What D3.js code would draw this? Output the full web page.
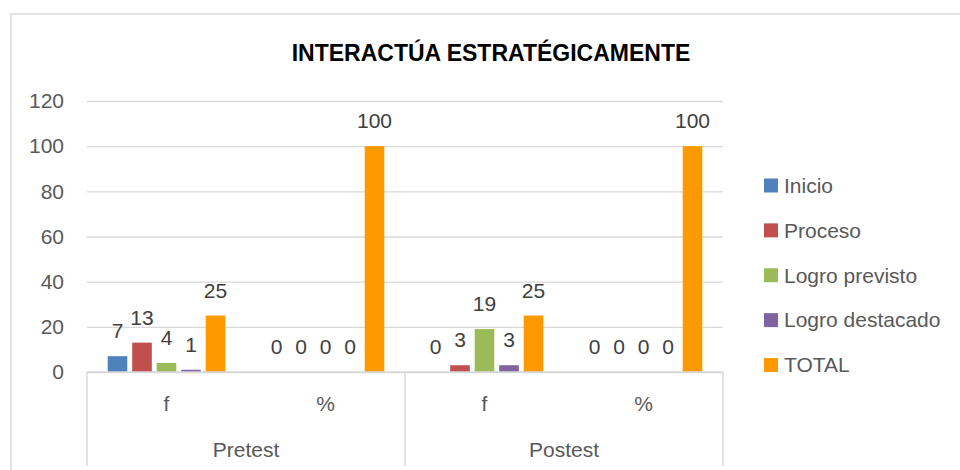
<!doctype html>
<html>
<head>
<meta charset="UTF-8">
<title>Interactúa estratégicamente</title>
<script src="https://d3js.org/d3.v7.min.js"></script>
<style>
  body { margin: 0; background: #fff; }
  text { font-family: "Liberation Sans", Arial, sans-serif; }
</style>
</head>
<body>
<svg id="chart" width="960" height="470"></svg>
<script>
// data
var groups = ["Pretest", "Postest"];
var measures = ["f", "%"];
var series = ["Inicio", "Proceso", "Logro previsto", "Logro destacado", "TOTAL"];
var inicio = [7, 0, 0, 0];
var proceso = [13, 0, 3, 0];
var logroPrevisto = [4, 0, 19, 0];
var logroDestacado = [1, 0, 3, 0];
var total = [25, 100, 25, 100];
var yTicks = [0, 20, 40, 60, 80, 100, 120];
var colors = ["#4F81BD", "#C0504D", "#9BBB59", "#8064A2", "#FF9900"];

var values = [inicio, proceso, logroPrevisto, logroDestacado, total];
var cats = [];
groups.forEach(function(g) {
    measures.forEach(function(m) { cats.push(g + "|" + m); });
});

var svg = d3.select("#chart");
var plotLeft = 87, plotRight = 723, plotTop = 101, plotBottom = 372;

// outer frame, cut off at right and bottom like the original
svg.append("rect")
    .attr("x", 11).attr("y", 14)
    .attr("width", 1000).attr("height", 500)
    .attr("fill", "none")
    .attr("stroke", "#d9d9d9")
    .attr("stroke-width", 1.5);

svg.append("text")
    .attr("x", 491).attr("y", 61)
    .attr("text-anchor", "middle")
    .attr("font-size", 23)
    .attr("font-weight", "bold")
    .attr("fill", "#000")
    .text("INTERACTÚA ESTRATÉGICAMENTE");

var y = d3.scaleLinear().domain([0, 120]).range([plotBottom, plotTop]);
var x0 = d3.scaleBand().domain(cats).range([plotLeft, plotRight]);
var xg = d3.scaleBand().domain(groups).range([plotLeft, plotRight]);
var x1 = d3.scaleBand().domain(series).range([0, x0.bandwidth()])
    .paddingInner(0.2).paddingOuter(0.845);

// y axis + gridlines
var yAxis = svg.append("g")
    .attr("transform", "translate(" + plotLeft + ",0)")
    .call(d3.axisLeft(y).tickValues(yTicks).tickSize(-(plotRight - plotLeft)).tickPadding(23));
yAxis.select(".domain").remove();
yAxis.selectAll(".tick line").attr("stroke", "#d9d9d9").attr("stroke-width", 1.3);
yAxis.selectAll(".tick text")
    .attr("font-size", 21)
    .attr("fill", "#595959")
    .style("font-family", "'Liberation Sans', Arial, sans-serif");

// bars
series.forEach(function(s, si) {
    var g = svg.append("g");
    g.selectAll("rect")
        .data(values[si])
        .enter().append("rect")
        .attr("x", function(d, i) { return x0(cats[i]) + x1(s); })
        .attr("y", function(d) { return y(d); })
        .attr("width", x1.bandwidth())
        .attr("height", function(d) { return plotBottom - y(d); })
        .attr("fill", colors[si]);
    g.selectAll("text")
        .data(values[si])
        .enter().append("text")
        .attr("x", function(d, i) { return x0(cats[i]) + x1(s) + x1.bandwidth() / 2; })
        .attr("y", function(d) { return y(d) - 18; })
        .attr("text-anchor", "middle")
        .attr("font-size", 21)
        .attr("fill", "#404040")
        .text(function(d) { return d; });
});

// category axis (two levels)
svg.append("line")
    .attr("x1", plotLeft).attr("x2", plotRight)
    .attr("y1", plotBottom).attr("y2", plotBottom)
    .attr("stroke", "#d9d9d9").attr("stroke-width", 1.5);

var seps = groups.map(function(g) { return xg(g); }).concat([plotRight]);
svg.selectAll(".sep")
    .data(seps)
    .enter().append("line")
    .attr("x1", function(d) { return d; })
    .attr("x2", function(d) { return d; })
    .attr("y1", plotBottom).attr("y2", 466)
    .attr("stroke", "#d9d9d9").attr("stroke-width", 1.5);

svg.selectAll(".cat")
    .data(cats)
    .enter().append("text")
    .attr("x", function(d) { return x0(d) + x0.bandwidth() / 2; })
    .attr("y", 411)
    .attr("text-anchor", "middle")
    .attr("font-size", 21)
    .attr("fill", "#595959")
    .text(function(d) { return d.split("|")[1]; });

svg.selectAll(".grp")
    .data(groups)
    .enter().append("text")
    .attr("x", function(d) { return xg(d) + xg.bandwidth() / 2; })
    .attr("y", 457)
    .attr("text-anchor", "middle")
    .attr("font-size", 21)
    .attr("fill", "#595959")
    .text(function(d) { return d; });

// legend
var ly = d3.scalePoint().domain(series).range([185.5, 365]);
var legend = svg.selectAll(".leg")
    .data(series)
    .enter().append("g")
    .attr("transform", function(d) { return "translate(764," + ly(d) + ")"; });
legend.append("rect")
    .attr("x", 0).attr("y", -7)
    .attr("width", 14).attr("height", 14)
    .attr("fill", function(d, i) { return colors[i]; });
legend.append("text")
    .attr("x", 20).attr("y", 0)
    .attr("dy", "0.35em")
    .attr("font-size", 21)
    .attr("fill", "#595959")
    .text(function(d) { return d; });
</script>
</body>
</html>
